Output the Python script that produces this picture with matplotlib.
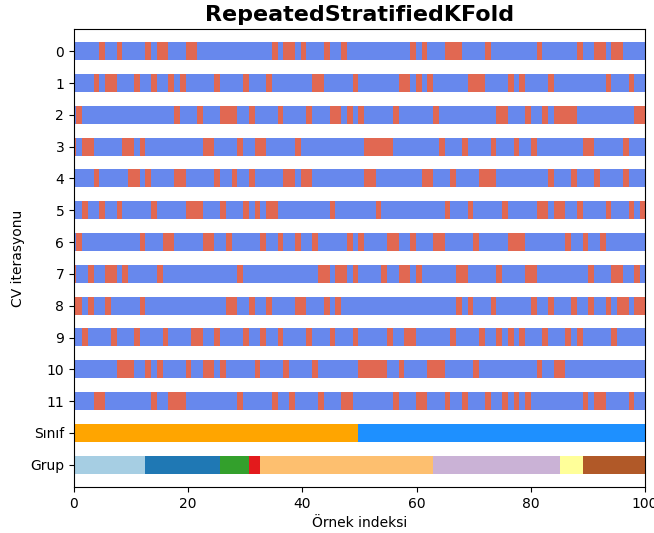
import numpy as np
import matplotlib.pyplot as plt
from matplotlib.colors import Normalize

n_samples = 100

# test (red) indices for each CV iteration
test_idx = [
    [5, 8, 13, 15, 16, 20, 21, 35, 37, 38, 40, 44, 47, 59, 61, 65, 66, 67, 72, 81, 88, 91, 92, 94, 95],
    [4, 6, 7, 11, 14, 17, 19, 25, 30, 34, 42, 43, 49, 57, 58, 60, 62, 69, 70, 71, 76, 78, 83, 93, 97],
    [1, 18, 22, 26, 27, 28, 31, 36, 41, 45, 46, 48, 50, 56, 63, 74, 75, 79, 82, 84, 85, 86, 87, 98, 99],
    [0, 2, 3, 9, 10, 12, 23, 24, 29, 32, 33, 39, 51, 52, 53, 54, 55, 64, 68, 73, 77, 80, 89, 90, 96],
    [4, 10, 11, 13, 18, 19, 25, 28, 31, 37, 38, 40, 41, 51, 52, 61, 62, 66, 71, 72, 73, 83, 87, 91, 96],
    [2, 5, 8, 14, 20, 21, 22, 26, 30, 32, 34, 35, 45, 53, 65, 69, 75, 81, 82, 84, 85, 88, 93, 97, 99],
    [1, 12, 16, 17, 23, 24, 27, 33, 36, 39, 42, 48, 50, 55, 56, 59, 63, 64, 70, 76, 77, 78, 86, 89, 92],
    [0, 3, 6, 7, 9, 15, 29, 43, 44, 46, 47, 49, 54, 57, 58, 60, 67, 68, 74, 79, 80, 90, 94, 95, 98],
    [0, 1, 3, 6, 12, 27, 28, 31, 34, 39, 40, 44, 46, 67, 69, 73, 80, 83, 87, 90, 93, 95, 96, 98, 99],
    [2, 7, 11, 16, 21, 22, 25, 30, 33, 36, 41, 45, 49, 55, 58, 59, 66, 71, 74, 76, 78, 82, 86, 88, 94],
    [8, 9, 10, 13, 15, 20, 23, 24, 26, 32, 37, 42, 50, 51, 52, 53, 54, 57, 62, 63, 64, 70, 81, 84, 85],
    [4, 5, 14, 17, 18, 19, 29, 35, 38, 43, 47, 48, 56, 60, 61, 65, 68, 72, 75, 77, 79, 89, 91, 92, 97],
]

# class 0 for first 50 samples, class 1 for the rest
class_sizes = [50, 50]
class_colors = ["orange", "dodgerblue"]

group_sizes = [13, 13, 5, 2, 30, 22, 4, 11]

y_labels = [str(i) for i in range(len(test_idx))] + ["Sınıf", "Grup"]

cmap_cv = plt.cm.coolwarm
norm_cv = Normalize(vmin=-0.2, vmax=1.2)
cmap_data = plt.cm.Paired

fig = plt.figure(figsize=(6.54, 5.33), dpi=100)
ax = fig.add_axes([0.1131, 0.0863, 0.8731, 0.8593])

h = 0.56


def draw_row(y, cols):
    # one strip of cells, one pixel column per sample
    img = np.asarray(cols, dtype=float).reshape(1, n_samples, 4)
    ax.imshow(img, extent=(-0.6, 100, y + h / 2, y - h / 2),
              aspect="auto", interpolation="nearest")


for ii, idx in enumerate(test_idx):
    vals = np.zeros(n_samples)
    vals[idx] = 1
    draw_row(ii + 0.5, cmap_cv(norm_cv(vals)))

# class row
classes = np.repeat(np.arange(len(class_sizes)), class_sizes)
draw_row(len(test_idx) + 0.5, plt.matplotlib.colors.to_rgba_array([class_colors[c] for c in classes]))

# group row
groups = np.repeat(np.arange(len(group_sizes)), group_sizes)
draw_row(len(test_idx) + 1.5, cmap_data(Normalize(0, len(group_sizes) - 1)(groups)))

ax.set_yticks(np.arange(len(y_labels)) + 0.5)
ax.set_yticklabels(y_labels)
ax.set_ylim(len(test_idx) + 2.2, -0.2)
ax.set_xlim(0, 100)
ax.set_xlabel("Örnek indeksi")
ax.set_ylabel("CV iterasyonu")
ax.set_title("RepeatedStratifiedKFold", fontsize=16, fontweight="bold")

fig.savefig("out.png", dpi=100)
